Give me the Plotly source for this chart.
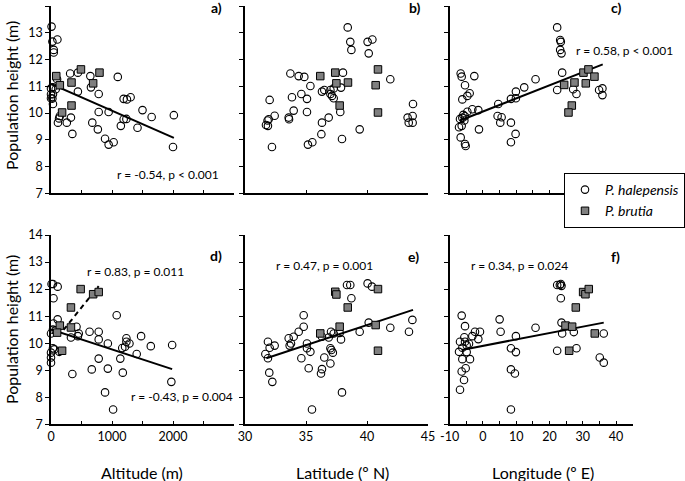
import plotly.graph_objects as go

# ---------------- data ----------------
# Panel a: altitude vs height (top row)
a_hal_x = [9, 23, 105, 45, 45, 100, 0, 32, 77, 0, 32, 0, 23, 32, 145, 132, 114, 314, 441, 441, 327, 259, 350,
           645, 655, 677, 782, 782, 768, 945, 886, 945, 1027, 1095, 1191, 1245, 1305, 1191, 1236, 1145,
           1418, 1500, 1650, 2014, 2000]
a_hal_y = [13.23, 12.67, 12.75, 12.36, 12.26, 11.26, 10.92, 10.96, 10.89, 10.70, 10.70, 10.55, 10.54, 10.34,
           9.89, 9.80, 9.64, 11.48, 11.51, 10.80, 9.83, 9.64, 9.22, 11.38, 10.96, 9.64, 10.71, 10.04, 9.39,
           10.04, 9.04, 8.82, 8.91, 11.35, 10.53, 10.51, 10.59, 9.77, 9.78, 9.52, 9.45, 10.11, 9.85, 9.92, 8.73]
a_bru_x = [86, 145, 491, 336, 691, 795, 336, 182]
a_bru_y = [11.38, 11.04, 11.63, 11.14, 11.11, 11.51, 10.28, 10.02]
a_fit_x = [0, 2014]
a_fit_y = [11.09, 9.07]

# Panel b: latitude vs height (top row)
b_hal_x = [38.42, 38.63, 38.72, 40.05, 40.44, 40.14, 33.72, 34.40, 34.86, 38.03, 41.91, 35.36, 36.31, 36.50,
           37.00, 37.00, 37.13, 37.27, 37.87, 37.27, 34.62, 33.85, 35.08, 32.02, 33.99, 35.08, 37.81, 32.43,
           31.94, 31.85, 31.72, 31.88, 33.58, 33.61, 36.86, 36.31, 36.26, 35.52, 35.16, 32.21, 37.95, 39.40,
           43.77, 43.33, 43.74, 43.42, 43.74]
b_hal_y = [13.20, 12.66, 12.36, 12.66, 12.75, 12.23, 11.48, 11.38, 11.35, 11.51, 11.26, 11.01, 10.80, 10.86,
           10.86, 10.71, 10.64, 10.92, 10.95, 10.55, 10.71, 10.59, 10.53, 10.49, 10.09, 10.04, 10.04, 9.90,
           9.77, 9.72, 9.55, 9.52, 9.83, 9.77, 9.83, 9.64, 9.21, 8.91, 8.82, 8.73, 9.03, 9.39,
           10.34, 9.83, 9.89, 9.64, 9.64]
b_bru_x = [36.17, 37.40, 37.49, 38.44, 37.76, 40.90, 40.71, 40.90]
b_bru_y = [11.38, 11.51, 11.11, 11.14, 10.28, 11.63, 11.04, 10.02]

# Panel c: longitude vs height (top row)
c_hal_x = [22.3, 23.2, 23.4, 23.2, 23.6, 23.8, 22.3, 27.1, 28.1, 34.9, 35.9, 35.9, 15.8, 12.4, 9.9, 8.4, 9.9,
           4.6, 4.4, 5.6, 5.2, 8.4, 9.8, 8.4, -1.2, -2.6, -6.7, -6.4, -5.4, -4.0, -4.7, -6.2, -1.4, -3.2,
           -4.7, -5.9, -5.4, -6.9, -6.2, -5.6, -7.2, -6.4, -6.7, -5.4, -5.2]
c_hal_y = [13.20, 12.73, 12.66, 12.36, 12.23, 11.51, 10.86, 10.89, 10.71, 10.86, 10.92, 10.67, 11.26, 10.96,
           10.80, 10.53, 10.55, 10.34, 9.89, 9.84, 9.64, 9.64, 9.22, 8.91, 9.39, 11.38, 11.48, 11.36, 11.04,
           10.74, 10.64, 10.51, 10.11, 10.14, 10.05, 9.93, 9.88, 9.78, 9.82, 9.72, 9.47, 9.52, 9.09, 8.84, 8.77]
c_bru_x = [24.4, 27.5, 30.9, 30.2, 31.7, 33.5, 26.7, 25.7]
c_bru_y = [11.05, 11.14, 11.11, 11.51, 11.63, 11.36, 10.28, 10.02]
c_fit_x = [-6.9, 36.0]
c_fit_y = [9.72, 11.82]

# Panel d: altitude vs height (bottom row)
d_hal_x = [9, 32, 109, 41, 109, 41, 0, 32, 77, 32, 55, 0, 0, 0, 136, 350, 418, 455, 441, 327, 632,
           782, 782, 782, 932, 932, 886, 1018, 668, 1077, 1136, 1177, 1168, 1236, 1236, 1214, 1286,
           1477, 1405, 1636, 1986, 1973]
d_hal_y = [12.19, 12.19, 12.09, 11.66, 10.88, 10.73, 10.36, 10.50, 10.48, 9.81, 9.77, 9.65, 9.47, 9.28, 9.68,
           8.86, 10.61, 10.36, 10.26, 10.21, 10.42, 10.42, 10.14, 9.43, 9.99, 9.06, 8.18, 7.55, 9.03,
           11.03, 9.43, 8.91, 9.82, 10.18, 10.05, 9.87, 9.99, 10.26, 9.60, 9.89, 9.93, 8.57]
d_bru_x = [486, 691, 782, 327, 145, 327, 100, 182]
d_bru_y = [12.00, 11.81, 11.89, 11.32, 10.65, 10.58, 10.39, 9.72]
d_fit_x = [0, 1986]
d_fit_y = [10.51, 9.04]
d_bru_fit_x = [205, 782]
d_bru_fit_y = [10.49, 12.11]

# Panel e: latitude vs height (bottom row)
e_hal_x = [38.36, 38.63, 40.05, 40.41, 38.72, 34.81, 40.14, 41.91, 43.72, 43.44, 39.40, 34.81, 34.40, 33.99,
           33.58, 33.77, 33.66, 35.08, 35.08, 35.36, 31.88, 32.43, 32.02, 31.67, 31.88, 31.99, 32.24, 34.62,
           35.22, 35.49, 36.31, 36.50, 36.31, 36.23, 37.05, 37.00, 37.08, 37.20, 37.00, 37.27, 37.76, 37.87,
           37.95, 36.86]
e_hal_y = [12.15, 12.15, 12.21, 12.09, 11.66, 11.03, 10.76, 10.57, 10.86, 10.42, 10.42, 10.61, 10.42, 10.24,
           10.18, 9.99, 9.91, 9.99, 9.81, 9.68, 10.05, 9.91, 9.83, 9.60, 9.44, 8.91, 8.57, 9.44,
           9.07, 7.55, 10.24, 9.47, 9.04, 8.88, 10.42, 9.81, 9.75, 9.65, 9.25, 10.36, 10.38, 10.14,
           8.18, 10.21]
e_bru_x = [37.40, 37.49, 38.42, 37.76, 36.17, 40.90, 40.71, 40.90]
e_bru_y = [11.90, 11.80, 11.32, 10.61, 10.36, 12.00, 10.67, 9.72]
e_fit_x = [31.75, 43.77]
e_fit_y = [9.44, 11.23]

# Panel f: longitude vs height (bottom row)
f_hal_x = [22.3, 23.1, 23.4, 23.6, 23.4, 23.6, 23.8, 22.3, 27.3, 28.1, 36.3, 35.1, 36.3, 15.8, 9.9, 8.4,
           9.9, 8.4, 9.6, 8.4, 5.0, 5.3, -0.9, -2.4, -3.2, -1.4, -6.4, -5.4, -5.6, -6.9, -4.2, -4.9, -6.2,
           -5.4, -7.2, -6.2, -3.9, -4.9, -5.2, -6.4, -5.7, -6.9]
f_hal_y = [12.15, 12.15, 12.19, 12.12, 11.66, 10.76, 10.36, 9.72, 10.41, 9.81, 10.36, 9.47, 9.28, 10.57,
           10.26, 9.81, 9.67, 9.03, 8.88, 7.55, 10.88, 10.42, 10.42, 10.42, 10.26, 10.15, 11.02, 10.63,
           10.22, 10.05, 9.98, 9.92, 9.83, 10.05, 9.68, 9.41, 9.41, 9.67, 9.07, 8.95, 8.64, 8.28]
f_bru_x = [30.1, 30.8, 31.8, 27.9, 24.8, 26.8, 33.6, 25.9]
f_bru_y = [11.89, 11.81, 12.00, 11.32, 10.65, 10.61, 10.36, 9.72]
f_fit_x = [-6.4, 36.3]
f_fit_y = [9.75, 10.76]

# Tick labels
alt_ticks = [0, 500, 1000, 1500, 2000, 2500, 3000]
alt_text = ["0", "", "1000", "", "2000", "", ""]
lat_ticks = [30, 35, 40, 45]
lat_text = ["30", "35", "40", "45"]
lon_ticks = [-10, -5, 0, 5, 10, 15, 20, 25, 30, 35, 40, 45]
lon_text = ["-10", "", "0", "", "10", "", "20", "", "30", "", "40", ""]
h_ticks = [7, 8, 9, 10, 11, 12, 13, 14]

panel_labels = ["a)", "b)", "c)", "d)", "e)", "f)"]
stats_text = ["r = -0.54, p < 0.001", "r = 0.58, p < 0.001", "r = 0.83, p = 0.011",
              "r = -0.43, p = 0.004", "r = 0.47, p = 0.001", "r = 0.34, p = 0.024"]
x_titles = ["Altitude (m)", "Latitude (º N)", "Longitude (º E)"]
y_title = "Population height (m)"
series_names = ["<i>P. halepensis</i>", "<i>P. brutia</i>"]

# ---------------- figure ----------------
W, H = 685, 481
FONT = "Lato"
fig = go.Figure()

def px_x(p):
    return p / W

def px_y(p):
    return 1 - p / H

col_dom = [[px_x(51), px_x(234)], [px_x(245), px_x(428)], [px_x(449.7), px_x(632.7)]]
row_dom = [[px_y(193.3), px_y(6)], [px_y(424.3), px_y(235)]]

circle_style = dict(symbol="circle-open", size=7.5, color="black", line=dict(width=1.1, color="black"))
square_style = dict(symbol="square", size=7.5, color="#7f7f7f", line=dict(width=1, color="black"))

panels = [
    (a_hal_x, a_hal_y, a_bru_x, a_bru_y),
    (b_hal_x, b_hal_y, b_bru_x, b_bru_y),
    (c_hal_x, c_hal_y, c_bru_x, c_bru_y),
    (d_hal_x, d_hal_y, d_bru_x, d_bru_y),
    (e_hal_x, e_hal_y, e_bru_x, e_bru_y),
    (f_hal_x, f_hal_y, f_bru_x, f_bru_y),
]
fits = {0: [(a_fit_x, a_fit_y, "solid")], 2: [(c_fit_x, c_fit_y, "solid")],
        3: [(d_fit_x, d_fit_y, "solid"), (d_bru_fit_x, d_bru_fit_y, "5px,4px")],
        4: [(e_fit_x, e_fit_y, "solid")], 5: [(f_fit_x, f_fit_y, "solid")]}

for i, (hx, hy, bx, by) in enumerate(panels):
    ax = "" if i == 0 else str(i + 1)
    for fx, fy, dash in fits.get(i, []):
        fig.add_trace(go.Scatter(x=fx, y=fy, mode="lines", xaxis="x" + ax, yaxis="y" + ax,
                                 line=dict(color="black", width=2, dash=dash), showlegend=False,
                                 hoverinfo="skip"))
    fig.add_trace(go.Scatter(x=hx, y=hy, mode="markers", xaxis="x" + ax, yaxis="y" + ax,
                             marker=circle_style, name=series_names[0], showlegend=(i == 0),
                             cliponaxis=False))
    fig.add_trace(go.Scatter(x=bx, y=by, mode="markers", xaxis="x" + ax, yaxis="y" + ax,
                             marker=square_style, name=series_names[1], showlegend=(i == 0),
                             cliponaxis=False))

tick_font = dict(family=FONT, size=12.5, color="black")
x_specs = [(alt_ticks, alt_text, [0, 3000]), (lat_ticks, lat_text, [30, 45]), (lon_ticks, lon_text, [-10, 45])]

layout = {}
for i in range(6):
    r, c = divmod(i, 3)
    suffix = "" if i == 0 else str(i + 1)
    tv, tt, rng = x_specs[c]
    layout["xaxis" + suffix] = dict(
        domain=col_dom[c], range=rng, anchor="y" + suffix, tickmode="array", tickvals=tv, ticktext=tt,
        showticklabels=(r == 1), showline=True, linecolor="black", linewidth=1.5, ticks="inside",
        ticklen=4, tickwidth=1.2, tickcolor="black", showgrid=False, zeroline=False, tickfont=tick_font,
        automargin=False,
    )
    layout["yaxis" + suffix] = dict(
        domain=row_dom[r], range=[7, 14], anchor="x" + suffix, tickmode="array", tickvals=h_ticks,
        showticklabels=(c == 0), showline=True, linecolor="black", linewidth=1.5, ticks="outside",
        ticklen=4, tickwidth=1.2, tickcolor="black", showgrid=False, zeroline=False, tickfont=tick_font,
        automargin=False,
    )

annotations = []
label_pos = [(2716, 13.93), (43.9, 13.93), (40.1, 13.93), (2705, 13.26), (43.8, 13.22), (39.8, 13.22)]
for i, (lx, ly) in enumerate(label_pos):
    suffix = "" if i == 0 else str(i + 1)
    annotations.append(dict(x=lx, y=ly, xref="x" + suffix, yref="y" + suffix, text="<b>%s</b>" % panel_labels[i],
                            showarrow=False, xanchor="center", yanchor="middle",
                            font=dict(family=FONT, size=14, color="black")))

stats_pos = [(0, 1923, 7.72), (2, 42.4, 12.33), (3, 1377, 12.64), (3, 2142, 8.02), (4, 36.52, 12.89), (5, 11.1, 12.89)]
for (pi, sx, sy), txt in zip(stats_pos, stats_text):
    suffix = "" if pi == 0 else str(pi + 1)
    annotations.append(dict(x=sx, y=sy, xref="x" + suffix, yref="y" + suffix, text=txt, showarrow=False,
                            xanchor="center", yanchor="middle",
                            font=dict(family=FONT, size=12, color="black")))

title_font = dict(family=FONT, size=16, color="black")
for xc, t in zip([142, 342, 543], x_titles):
    annotations.append(dict(x=px_x(xc), y=px_y(472), xref="paper", yref="paper", text=t, showarrow=False,
                            xanchor="center", yanchor="middle", font=title_font))
for yc in [96, 330]:
    annotations.append(dict(x=px_x(11), y=px_y(yc), xref="paper", yref="paper", text=y_title, showarrow=False,
                            xanchor="center", yanchor="middle", textangle=-90, font=title_font))

fig.update_layout(
    width=W, height=H, margin=dict(l=0, r=0, t=0, b=0), plot_bgcolor="white", paper_bgcolor="white",
    annotations=annotations,
    legend=dict(x=1, y=px_y(173), xanchor="right", yanchor="top", bordercolor="black", borderwidth=1,
                bgcolor="white", font=dict(family=FONT, size=14, color="black"), itemwidth=30,
                tracegroupgap=0),
    **layout,
)

fig.write_html("out.html", config={"displayModeBar": False},
               post_script="document.body.style.margin='0';document.body.style.overflow='hidden';")
